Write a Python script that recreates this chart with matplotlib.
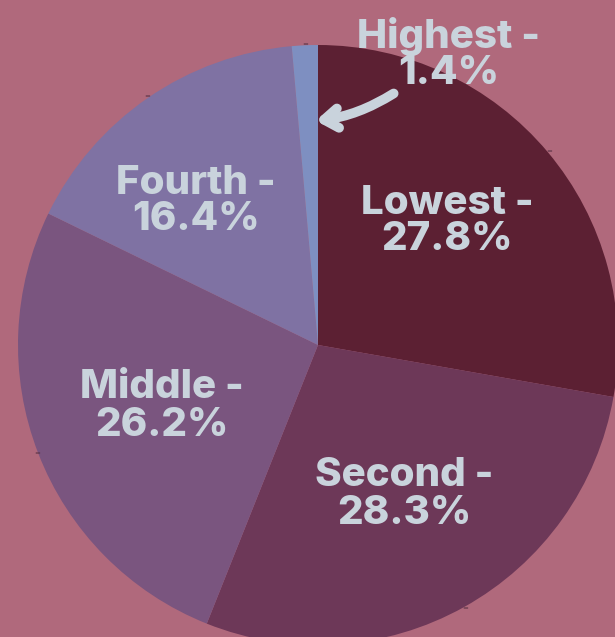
import matplotlib
matplotlib.use("Agg")
import matplotlib.pyplot as plt
from matplotlib.patches import FancyArrowPatch
import numpy as np

categories = ["Lowest", "Second", "Middle", "Fourth", "Highest"]
values = [27.8, 28.3, 26.2, 16.4, 1.4]
colors = ["#5c2033", "#6d3858", "#7a557f", "#7f72a3", "#7e8fc1"]
bg = "#b0697c"
txt = "#c9d3dc"

W, H = 615, 637
fig = plt.figure(figsize=(W / 100, H / 100), dpi=100, facecolor=bg)
ax = fig.add_axes([0, 0, 1, 1])
ax.set_facecolor(bg)

cx, cy, R = 318, H - 345, 300
wedges, _ = ax.pie(values, colors=colors, startangle=90, counterclock=False,
                   center=(cx, cy), radius=R, wedgeprops=dict(linewidth=0))
ax.set_xlim(0, W)
ax.set_ylim(0, H)
ax.set_aspect("equal")
ax.axis("off")

# tiny markers at outer wedge midpoints
for w in wedges:
    ang = np.deg2rad((w.theta1 + w.theta2) / 2)
    ax.text(cx + R * 1.005 * np.cos(ang), cy + R * 1.005 * np.sin(ang), "=",
            fontsize=5, color="#5a3345", ha="center", va="center")

# labels (image pixel coords of line centers)
label_pos = {
    "Lowest": (447, 203, 240),
    "Second": (404, 476, 513),
    "Middle": (162, 388, 425),
    "Fourth": (196, 183, 219),
    "Highest": (449, 36, 74),
}
for cat, v in zip(categories, values):
    x, y1, y2 = label_pos[cat]
    for s, yy in ((f"{cat} -", y1), (f"{v}%", y2)):
        ax.text(x, H - yy, s, fontsize=29, fontweight="heavy", family="Inter",
                color=txt, ha="center", va="center")

arrow = FancyArrowPatch(posA=(396, H - 92), posB=(313, H - 121),
                        connectionstyle="arc3,rad=-0.12",
                        arrowstyle="->,head_length=10,head_width=7",
                        lw=7, color=txt, capstyle="round", joinstyle="round")
ax.add_patch(arrow)

fig.savefig("out.png", dpi=100, facecolor=bg)
